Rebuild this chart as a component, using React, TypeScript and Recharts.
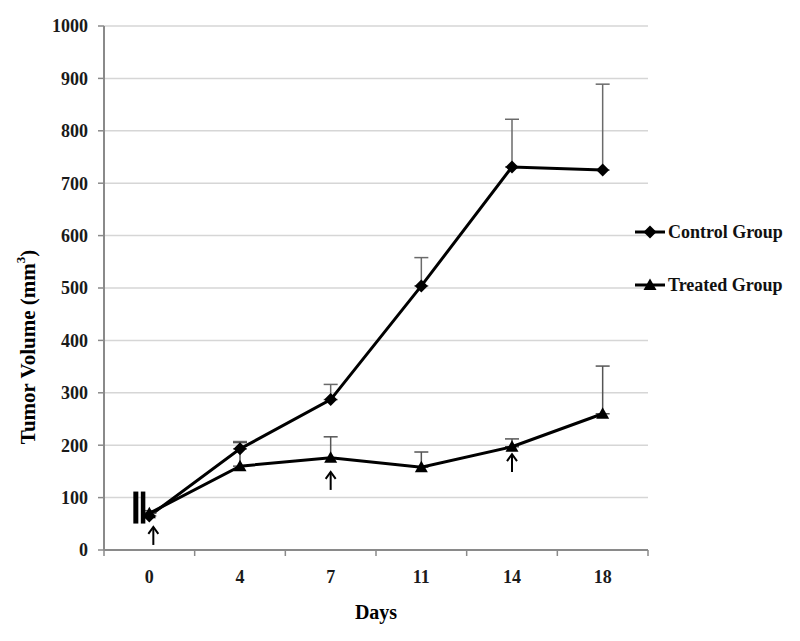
import React from "react";
import {
  LineChart,
  Line,
  XAxis,
  YAxis,
  CartesianGrid,
  ErrorBar,
  Legend,
  ReferenceDot,
  Label,
} from "recharts";

const days = ["0", "4", "7", "11", "14", "18"];
const controlMean = [65, 193, 287, 504, 731, 725];
const controlErr = [6, 14, 29, 54, 91, 164];
const treatedMean = [70, 160, 176, 158, 197, 260];
const treatedErr = [5, 45, 40, 29, 15, 91];
const yTicks = [0, 100, 200, 300, 400, 500, 600, 700, 800, 900, 1000];

// treatment arrows (tip value) and the axis-break mark near day 0
const arrows = [
  { day: "0", tip: 44, dx: 4 },
  { day: "7", tip: 149, dx: 0 },
  { day: "14", tip: 183, dx: 0 },
];
const breakMark = { day: "0", value: 81 };

const W = 800;
const H = 641;
const Y_W = 104;
const RIGHT = 152;
const TOP = 26;
const BOTTOM_H = 91;
const BAND = (W - Y_W - RIGHT) / days.length;

const FONT = '"Liberation Serif", "Times New Roman", serif';
const AXIS = "#8a8a8a";

const data = days.map((d, i) => ({
  day: d,
  control: controlMean[i],
  controlErr: [0, controlErr[i]],
  treated: treatedMean[i],
  treatedErr: [0, treatedErr[i]],
}));

const Diamond = (p: any) => {
  const { cx, cy } = p;
  if (cx == null || cy == null) return null;
  return <path d={`M${cx},${cy - 6.5}L${cx + 6.5},${cy}L${cx},${cy + 6.5}L${cx - 6.5},${cy}Z`} fill="#000" />;
};

const Triangle = (p: any) => {
  const { cx, cy } = p;
  if (cx == null || cy == null) return null;
  return <path d={`M${cx},${cy - 6.5}L${cx + 6.5},${cy + 5}L${cx - 6.5},${cy + 5}Z`} fill="#000" />;
};

const XTick = (p: any) => {
  const { x, y, payload, index } = p;
  const last = index === days.length - 1;
  return (
    <g>
      <line x1={x - BAND / 2} x2={x - BAND / 2} y1={y} y2={y + 6} stroke={AXIS} strokeWidth={1.5} />
      {last && <line x1={x + BAND / 2} x2={x + BAND / 2} y1={y} y2={y + 6} stroke={AXIS} strokeWidth={1.5} />}
      <text x={x} y={y + 33} textAnchor="middle" fontFamily={FONT} fontWeight={700} fontSize={18} fill="#1a1a1a">
        {payload.value}
      </text>
    </g>
  );
};

const Arrow = (dx: number) => (p: any) => {
  const { cx, cy } = p;
  const x = cx + dx;
  return (
    <g stroke="#000" strokeWidth={2} fill="none">
      <line x1={x} x2={x} y1={cy} y2={cy + 18} />
      <polyline points={`${x - 5},${cy + 7} ${x},${cy} ${x + 5},${cy + 7}`} />
    </g>
  );
};

const BreakShape = (p: any) => {
  const { cx, cy } = p;
  return (
    <g fill="#000">
      <rect x={cx - 16} y={cy - 16} width={5} height={32} />
      <rect x={cx - 8.5} y={cy - 16} width={4.5} height={32} />
    </g>
  );
};

const YTitle = (p: any) => {
  const vb = p.viewBox || {};
  const x = (vb.x ?? 0) + 28;
  const y = 347;
  return (
    <text
      x={x}
      y={y}
      transform={`rotate(-90 ${x} ${y})`}
      textAnchor="middle"
      dominantBaseline="central"
      fontFamily={FONT}
      fontWeight={700}
      fontSize={21}
      fill="#000"
    >
      Tumor Volume (mm
      <tspan dy={-8} fontSize={13}>3</tspan>
      <tspan dy={8}>)</tspan>
    </text>
  );
};

const legendItems = [
  { name: "Control Group", Mark: Diamond },
  { name: "Treated Group", Mark: Triangle },
];

const LegendBox = () => (
  <div style={{ fontFamily: FONT, fontWeight: 700, fontSize: 18, color: "#111" }}>
    {legendItems.map(({ name, Mark }, i) => (
      <div key={name} style={{ display: "flex", alignItems: "center", height: 20, marginBottom: i === 0 ? 33 : 0 }}>
        <svg width={32} height={16}>
          <line x1={1} x2={31} y1={8} y2={8} stroke="#000" strokeWidth={3} />
          <Mark cx={16} cy={8} />
        </svg>
        <span style={{ marginLeft: 2 }}>{name}</span>
      </div>
    ))}
  </div>
);

export default function App() {
  return (
    <div style={{ position: "relative", margin: -8, width: W, height: H, background: "#fff" }}>
      <div style={{ position: "absolute", left: 0, top: 0, width: 2, height: H, background: "#6e6e6e" }} />
      <LineChart width={W} height={H} data={data} margin={{ top: TOP, right: RIGHT, bottom: 0, left: 0 }}>
        <CartesianGrid vertical={false} stroke="#d6d6d6" strokeWidth={1.5} />
        <XAxis
          dataKey="day"
          scale="band"
          height={BOTTOM_H}
          axisLine={{ stroke: AXIS, strokeWidth: 2 }}
          tickLine={false}
          tickSize={0}
          tickMargin={0}
          tick={<XTick />}
          interval={0}
        >
          <Label
            value="Days"
            position="insideBottom"
            offset={22}
            style={{ fontFamily: FONT, fontWeight: 700, fontSize: 20, fill: "#000" }}
          />
        </XAxis>
        <YAxis
          width={Y_W}
          domain={[0, 1000]}
          ticks={yTicks}
          interval={0}
          axisLine={{ stroke: AXIS, strokeWidth: 2 }}
          tickLine={{ stroke: AXIS, strokeWidth: 1.5 }}
          tickSize={6}
          tickMargin={10}
          tick={{ fontFamily: FONT, fontWeight: 700, fontSize: 18, fill: "#1a1a1a" }}
        >
          <Label content={<YTitle />} />
        </YAxis>
        <Legend
          layout="horizontal"
          verticalAlign="middle"
          align="center"
          content={<LegendBox />}
          wrapperStyle={{ left: 634, top: 222, width: 166 }}
        />
        <Line
          dataKey="control"
          name="Control Group"
          stroke="#000"
          strokeWidth={3}
          dot={<Diamond />}
          activeDot={false}
          isAnimationActive={false}
        >
          <ErrorBar dataKey="controlErr" direction="y" width={7} stroke="#6a6a6a" strokeWidth={1.5} />
        </Line>
        <Line
          dataKey="treated"
          name="Treated Group"
          stroke="#000"
          strokeWidth={3}
          dot={<Triangle />}
          activeDot={false}
          isAnimationActive={false}
        >
          <ErrorBar dataKey="treatedErr" direction="y" width={7} stroke="#555" strokeWidth={1.5} />
        </Line>
        {arrows.map((a) => (
          <ReferenceDot key={a.day} x={a.day} y={a.tip} r={0} shape={Arrow(a.dx)} />
        ))}
        <ReferenceDot x={breakMark.day} y={breakMark.value} r={0} shape={BreakShape} />
      </LineChart>
    </div>
  );
}
